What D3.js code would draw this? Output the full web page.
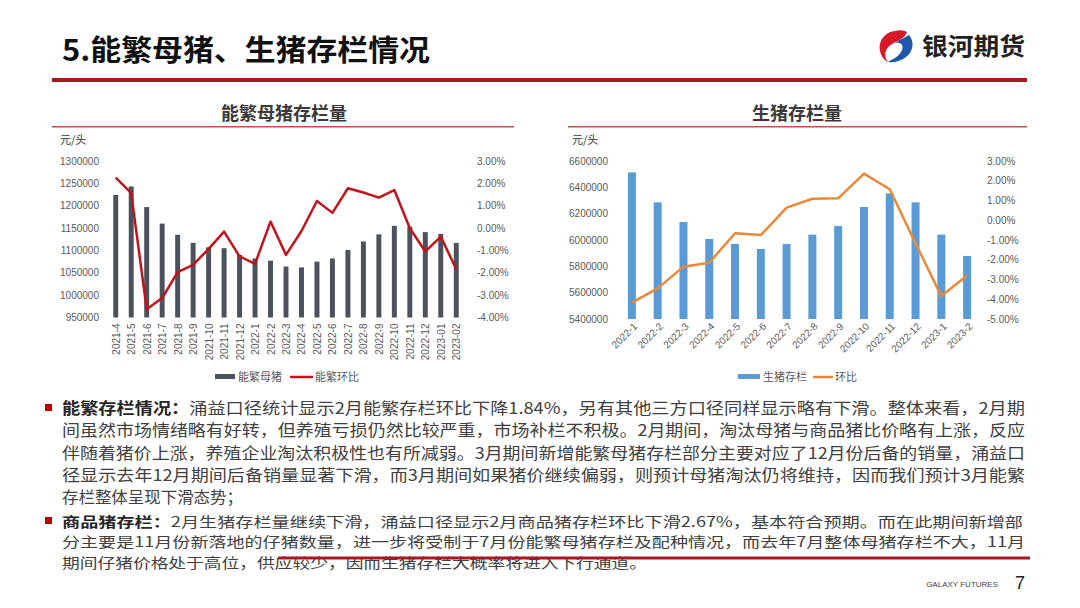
<!DOCTYPE html>
<html><head><meta charset="utf-8">
<script src="https://cdn.jsdelivr.net/npm/d3@7"></script>
<style>
html,body{margin:0;padding:0;background:#fff;}
svg{display:block;font-family:"Noto Sans CJK SC","Noto Sans",sans-serif;}
</style></head>
<body>
<svg id="c" width="1080" height="608"></svg>
<script>
// ---------- data ----------
const sowMonths = ["2021-4","2021-5","2021-6","2021-7","2021-8","2021-9","2021-10","2021-11","2021-12","2022-1","2022-2","2022-3","2022-4","2022-5","2022-6","2022-7","2022-8","2022-9","2022-10","2022-11","2022-12","2023-01","2023-02"];
const sowStock = [1224000,1243000,1197000,1160000,1135000,1117000,1107000,1105000,1090000,1082000,1077000,1064000,1062000,1075000,1082000,1101000,1120000,1136000,1155000,1153000,1141000,1137000,1117000];
const sowMoM = [2.26,1.56,-3.63,-3.13,-1.97,-1.65,-0.93,-0.16,-1.27,-1.60,0.29,-1.20,-0.13,1.21,0.68,1.78,1.59,1.36,1.70,-0.01,-1.05,-0.38,-1.84];
const sowLeftTicks = [950000,1000000,1050000,1100000,1150000,1200000,1250000,1300000];
const sowRightTicks = [-4,-3,-2,-1,0,1,2,3];

const hogMonths = ["2022-1","2022-2","2022-3","2022-4","2022-5","2022-6","2022-7","2022-8","2022-9","2022-10","2022-11","2022-12","2023-1","2023-2"];
const hogStock = [6514000,6286000,6137000,6008000,5970000,5932000,5970000,6041000,6106000,6251000,6354000,6286000,6041000,5879000];
const hogMoM = [-4.17,-3.45,-2.35,-2.15,-0.66,-0.75,0.64,1.09,1.11,2.36,1.57,-1.17,-3.84,-2.80];
const hogLeftTicks = [5400000,5600000,5800000,6000000,6200000,6400000,6600000];
const hogRightTicks = [-5,-4,-3,-2,-1,0,1,2,3];

const pageTitle = "5.能繁母猪、生猪存栏情况";
const chartTitles = ["能繁母猪存栏量","生猪存栏量"];
const unitLabel = "元/头";
const sowLegend = ["能繁母猪","能繁环比"];
const hogLegend = ["生猪存栏","环比"];
const para1Head = "能繁存栏情况：";
const para1Lines = [
 "涌益口径统计显示2月能繁存栏环比下降1.84%，另有其他三方口径同样显示略有下滑。整体来看，2月期",
 "间虽然市场情绪略有好转，但养殖亏损仍然比较严重，市场补栏不积极。2月期间，淘汰母猪与商品猪比价略有上涨，反应",
 "伴随着猪价上涨，养殖企业淘汰积极性也有所减弱。3月期间新增能繁母猪存栏部分主要对应了12月份后备的销量，涌益口",
 "径显示去年12月期间后备销量显著下滑，而3月期间如果猪价继续偏弱，则预计母猪淘汰仍将维持，因而我们预计3月能繁",
 "存栏整体呈现下滑态势；"];
const para2Head = "商品猪存栏：";
const para2Lines = [
 "2月生猪存栏量继续下滑，涌益口径显示2月商品猪存栏环比下滑2.67%，基本符合预期。而在此期间新增部",
 "分主要是11月份新落地的仔猪数量，进一步将受制于7月份能繁母猪存栏及配种情况，而去年7月整体母猪存栏不大，11月",
 "期间仔猪价格处于高位，供应较少，因而生猪存栏大概率将进入下行通道。"];

// ---------- drawing ----------
const svg = d3.select("#c");
const darkRed = "#a8191f";
const txt = "#404040";
const axisCol = "#595959";

// header
svg.append("text").attr("x",62).attr("y",61).attr("font-size",29).attr("font-weight",700)
  .attr("fill","#111").attr("textLength",368).attr("lengthAdjust","spacingAndGlyphs").text(pageTitle);
svg.append("rect").attr("x",52).attr("y",78).attr("width",975).attr("height",4).attr("fill",darkRed);

// logo
const logo = svg.append("g").attr("transform","translate(897,46)");
logo.append("path").attr("d","M-2,-15 C-12,-14 -19,-5 -17,5 C-16,10 -13,14 -9,16 C-14,10 -12,2 -5,-2 C1,-5 8,-8 10,-14 C6,-16 2,-16 -2,-15 Z").attr("fill","#d7192a");
logo.append("path").attr("d","M12,-11 C18,-4 16,6 9,11 C4,15 -3,17 -9,16 C-4,13 3,10 5,4 C7,-2 3,-4 -2,-3 C4,-7 9,-9 12,-11 Z").attr("fill","#1e56a8");
svg.append("text").attr("x",922).attr("y",55).attr("font-size",24).attr("font-weight",700)
  .attr("fill","#222").attr("textLength",103).attr("lengthAdjust","spacingAndGlyphs").text("银河期货");

function drawChart(cfg){
  const g = svg.append("g");
  g.append("text").attr("x",cfg.titleX).attr("y",120).attr("text-anchor","middle")
    .attr("font-size",18).attr("font-weight",700).attr("fill","#3a3a3a").text(cfg.title);
  g.append("rect").attr("x",cfg.lineX0).attr("y",126).attr("width",cfg.lineX1-cfg.lineX0).attr("height",1.5).attr("fill","#c0504d");
  g.append("text").attr("x",cfg.unitX).attr("y",144).attr("font-size",11).attr("fill","#333").text(unitLabel);

  const x = d3.scaleBand().domain(cfg.cats).range([cfg.x0,cfg.x1]).paddingInner(cfg.pad).paddingOuter(cfg.pad/2);
  const yL = d3.scaleLinear().domain(d3.extent(cfg.leftTicks)).range([cfg.yB,cfg.yT]);
  const yR = d3.scaleLinear().domain(d3.extent(cfg.rightTicks)).range([cfg.yB,cfg.yT]);

  const aL = g.append("g").attr("transform",`translate(${cfg.x0-cfg.offL},0)`)
    .call(d3.axisLeft(yL).tickValues(cfg.leftTicks).tickSize(0).tickPadding(0).tickFormat(d3.format("d")));
  const aR = g.append("g").attr("transform",`translate(${cfg.x1+cfg.offR},0)`)
    .call(d3.axisRight(yR).tickValues(cfg.rightTicks).tickSize(0).tickPadding(0).tickFormat(d=>d.toFixed(2)+"%"));
  [aL,aR].forEach(a=>{a.select(".domain").remove();
    a.selectAll("text").attr("font-size",10).attr("fill",axisCol).attr("font-family","Liberation Sans, Arial, sans-serif");});

  g.selectAll("rect.bar").data(cfg.stock).enter().append("rect").attr("class","bar")
    .attr("x",(d,i)=>x(cfg.cats[i])).attr("width",x.bandwidth())
    .attr("y",d=>yL(d)).attr("height",d=>cfg.yB-yL(d)).attr("fill",cfg.barCol);
  const line = d3.line().x((d,i)=>x(cfg.cats[i])+x.bandwidth()/2).y(d=>yR(d));
  g.append("path").datum(cfg.mom).attr("d",line).attr("fill","none").attr("stroke",cfg.lineCol)
    .attr("stroke-width",2.5).attr("stroke-linejoin","round");

  const ax = g.append("g").attr("transform",`translate(0,${cfg.yB})`)
    .call(d3.axisBottom(x).tickSize(0).tickPadding(0));
  ax.select(".domain").remove();
  ax.selectAll("text").attr("font-size",10).attr("fill",axisCol).attr("font-family","Liberation Sans, Arial, sans-serif")
    .attr("text-anchor","end").attr("dy",null)
    .attr("transform",cfg.rot===-90 ? "translate(4,6) rotate(-90)" : "translate(6,8) rotate(-45)");

  const lg = g.append("g");
  lg.append("rect").attr("x",cfg.leg[0]).attr("y",374).attr("width",cfg.leg[1]-cfg.leg[0]).attr("height",5).attr("fill",cfg.barCol);
  lg.append("text").attr("x",cfg.leg[1]+3).attr("y",381).attr("font-size",11).attr("fill",axisCol).text(cfg.legend[0]);
  lg.append("line").attr("x1",cfg.leg[2]).attr("x2",cfg.leg[3]).attr("y1",377).attr("y2",377).attr("stroke",cfg.lineCol).attr("stroke-width",2.5);
  lg.append("text").attr("x",cfg.leg[3]+2).attr("y",381).attr("font-size",11).attr("fill",axisCol).text(cfg.legend[1]);
}

drawChart({title:chartTitles[0],titleX:284,lineX0:52,lineX1:514,unitX:60,
  cats:sowMonths,stock:sowStock,mom:sowMoM,leftTicks:sowLeftTicks,rightTicks:sowRightTicks,
  x0:108,x1:464,pad:0.68,yT:161,yB:317.5,barCol:"#4b525c",lineCol:"#c0141c",rot:-90,offL:9,offR:13,
  legend:sowLegend,leg:[215,235,290,313]});
drawChart({title:chartTitles[1],titleX:797,lineX0:568,lineX1:1027,unitX:572,
  cats:hogMonths,stock:hogStock,mom:hogMoM,leftTicks:hogLeftTicks,rightTicks:hogRightTicks,
  x0:619,x1:980,pad:0.69,yT:161,yB:319,barCol:"#5b9bd5",lineCol:"#e8893a",rot:-45,offL:11,offR:7,
  legend:hogLegend,leg:[738,760,813,833]});

function para(head, lines, y0, step, fs, widths){
  svg.append("rect").attr("x",45).attr("y",y0-10).attr("width",7).attr("height",7).attr("fill","#c00000");
  lines.forEach((l,i)=>{
    const t = svg.append("text").attr("x",62).attr("y",y0+i*step).attr("font-size",fs).attr("fill",txt);
    if(widths[i]) t.attr("textLength",widths[i]).attr("lengthAdjust","spacingAndGlyphs");
    if(i===0) t.append("tspan").attr("font-weight",700).attr("fill","#262626").text(head);
    t.append("tspan").text(l);
  });
}
para(para1Head, para1Lines, 414, 22.3, 16, [963,963,963,963,181]);
para(para2Head, para2Lines, 527, 20.3, 14, [961,963,585]);

// footer
svg.append("rect").attr("x",278).attr("y",556.5).attr("width",752).attr("height",3).attr("fill",darkRed);
svg.append("text").attr("x",998).attr("y",587).attr("text-anchor","end").attr("font-size",8).attr("fill","#444")
  .attr("font-family","Liberation Sans Narrow, Liberation Sans, sans-serif").text("GALAXY FUTURES");
svg.append("text").attr("x",1020).attr("y",589).attr("text-anchor","middle").attr("font-size",18).attr("fill","#222")
  .attr("font-family","Liberation Sans Narrow, Liberation Sans, sans-serif").text("7");
</script>
</body></html>
